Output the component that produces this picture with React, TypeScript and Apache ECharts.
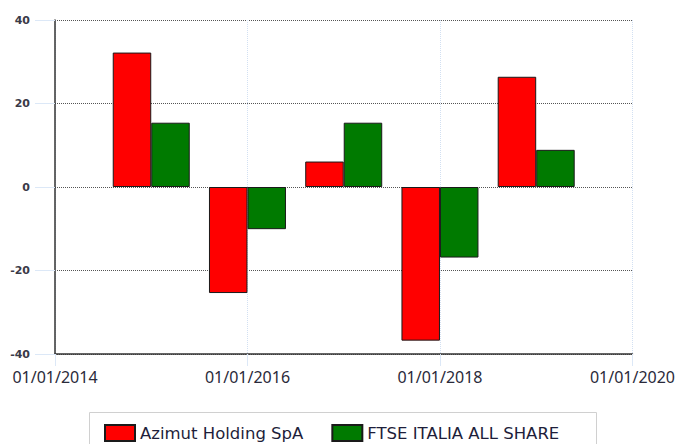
import React, { useEffect, useRef } from "react";
import * as echarts from "echarts";

const dates = ["01/01/2015", "01/01/2016", "01/01/2017", "01/01/2018", "01/01/2019"];
const azimut = [32.2, -25.4, 6.1, -36.8, 26.4];
const ftse = [15.4, -10.1, 15.4, -16.9, 8.9];
const seriesNames = ["Azimut Holding SpA", "FTSE ITALIA ALL SHARE"];
const yTicks = { min: -40, max: 40, interval: 20 };
const xTicks = { min: 2014, max: 2020, interval: 2 };

const toYear = (d: string) => parseInt(d.split("/")[2], 10);

export default function App() {
  const ref = useRef<HTMLDivElement>(null);
  useEffect(() => {
    if (!ref.current) return;
    const chart = echarts.init(ref.current, null, { renderer: "svg" });
    const font = "'Noto Sans', 'DejaVu Sans', sans-serif";
    chart.setOption({
      animation: false,
      backgroundColor: "#ffffff",
      grid: { left: 55, right: 44, top: 20, bottom: 90, containLabel: false },
      xAxis: {
        type: "value",
        min: xTicks.min,
        max: xTicks.max,
        interval: xTicks.interval,
        axisLine: { show: true, onZero: false, lineStyle: { color: "#333", width: 1.5 } },
        axisTick: { show: true, length: 12, lineStyle: { color: "#dce8f7", width: 1 } },
        axisLabel: {
          formatter: (v: number) => "01/01/" + v,
          color: "#2a2a3a",
          fontSize: 16,
          fontFamily: font,
          margin: 15,
          showMinLabel: true,
          showMaxLabel: true,
        },
        splitLine: { show: true, lineStyle: { color: "#d2e0f2", type: "dotted", width: 1 } },
      },
      yAxis: {
        type: "value",
        min: yTicks.min,
        max: yTicks.max,
        interval: yTicks.interval,
        axisLine: { show: true, onZero: false, lineStyle: { color: "#333", width: 1.5 } },
        axisTick: { show: true, length: 20, lineStyle: { color: "#dce8f7", width: 1 } },
        axisLabel: {
          color: "#3a3a48",
          fontSize: 11,
          fontWeight: "bold",
          fontFamily: "'DejaVu Sans', sans-serif",
          margin: 25,
        },
        splitLine: { show: true, lineStyle: { color: "#555", type: "dotted", width: 1 } },
      },
      legend: {
        show: true,
        left: 104,
        top: 424,
        itemWidth: 30,
        itemHeight: 16,
        itemGap: 28,
        padding: 0,
        icon: "rect",
        textStyle: { fontSize: 16.5, fontFamily: "'DejaVu Sans', sans-serif", color: "#1e1e3a" },
        data: seriesNames,
      },
      graphic: [
        {
          type: "rect",
          shape: { x: 89.5, y: 412.5, width: 507, height: 50 },
          style: { fill: "none", stroke: "#d0d0d0", lineWidth: 1 },
          silent: true,
          z: -1,
        },
      ],
      series: [
        {
          name: seriesNames[0],
          type: "bar",
          barWidth: 38.5,
          barGap: "0%",
          itemStyle: { color: "#ff0000", borderColor: "#1a1a1a", borderWidth: 1 },
          data: dates.map((d, i) => [toYear(d), azimut[i]]),
        },
        {
          name: seriesNames[1],
          type: "bar",
          barWidth: 38.5,
          barGap: "0%",
          itemStyle: { color: "#007a00", borderColor: "#1a1a1a", borderWidth: 1 },
          data: dates.map((d, i) => [toYear(d), ftse[i]]),
        },
      ],
    });
    return () => chart.dispose();
  }, []);
  return (
    <div
      ref={ref}
      style={{ position: "fixed", left: 0, top: 0, width: 678, height: 444 }}
    />
  );
}
